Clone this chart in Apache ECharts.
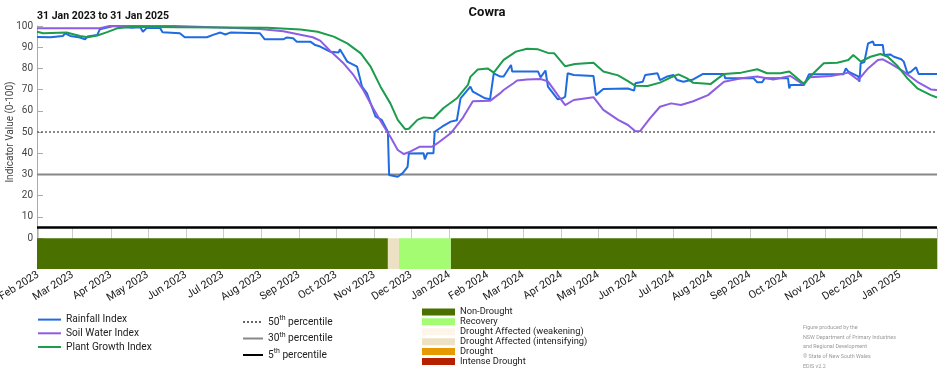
<!DOCTYPE html>
<html>
<head>
<meta charset="utf-8">
<script src="https://cdn.jsdelivr.net/npm/echarts@6/dist/echarts.min.js"></script>
<style>
html,body{margin:0;padding:0;background:#fff;}
#chart{width:952px;height:370px;}
</style>
</head>
<body>
<div id="chart"></div>
<script>
const startDate = '2023-01-31';
const endDate = '2025-01-31';
const yTicks = [0, 10, 20, 30, 40, 50, 60, 70, 80, 90, 100];
const monthNames = ['Jan','Feb','Mar','Apr','May','Jun','Jul','Aug','Sep','Oct','Nov','Dec'];

const rainfallIndex = [
 ['2023-01-31',94.8],['2023-02-11',94.7],['2023-02-21',95.3],['2023-02-23',96.5],['2023-02-27',95.3],
 ['2023-03-07',94.6],['2023-03-11',93.7],['2023-03-13',95],['2023-03-21',95.8],['2023-03-23',98.4],
 ['2023-04-03',100],['2023-04-18',99.2],['2023-04-25',99.4],['2023-04-27',97.3],['2023-04-30',99],
 ['2023-05-11',99],['2023-05-13',97.1],['2023-05-27',96.6],['2023-05-31',94.7],['2023-06-18',94.7],
 ['2023-06-23',95.8],['2023-06-29',96.9],['2023-07-03',96.0],['2023-07-07',96.9],['2023-07-31',96.6],
 ['2023-08-04',93.7],['2023-08-19',93.7],['2023-08-22',94.6],['2023-08-27',94.2],['2023-08-30',92.6],
 ['2023-09-10',92.6],['2023-09-14',91],['2023-09-18',90.3],['2023-09-26',87.9],['2023-10-03',87.5],
 ['2023-10-04',89],['2023-10-10',83.2],['2023-10-18',80.8],['2023-10-22',71.4],['2023-10-26',68.2],
 ['2023-11-02',57.2],['2023-11-07',55.7],['2023-11-12',50.1],['2023-11-13',29.7],['2023-11-20',28.9],
 ['2023-11-24',30.6],['2023-11-28',33.6],['2023-11-29',39.9],['2023-12-11',40],['2023-12-12',37.1],
 ['2023-12-14',40],['2023-12-19',40],['2023-12-20',50.1],['2023-12-26',52.5],['2024-01-02',54.9],
 ['2024-01-07',55.5],['2024-01-10',65.9],['2024-01-18',71.4],['2024-01-20',69],['2024-01-30',65.9],
 ['2024-02-03',65.5],['2024-02-06',77.7],['2024-02-11',76.2],['2024-02-14',76.2],['2024-02-20',81.6],
 ['2024-02-21',78.5],['2024-03-13',78.5],['2024-03-15',75.8],['2024-03-19',79],['2024-03-21',71.4],
 ['2024-03-29',65.4],['2024-04-02',65.9],['2024-04-04',66.7],['2024-04-06',77.7],['2024-04-11',76.9],
 ['2024-04-27',76.4],['2024-04-29',67.4],['2024-04-30',66.7],['2024-05-05',70.3],['2024-05-25',70.5],
 ['2024-05-30',69.5],['2024-05-31',73],['2024-06-06',73.7],['2024-06-08',76.9],['2024-06-18',77.7],
 ['2024-06-20',74.5],['2024-06-26',76.2],['2024-07-01',76.9],['2024-07-04',74.5],['2024-07-09',73.7],
 ['2024-07-17',74.8],['2024-07-25',77.4],['2024-08-11',77.4],['2024-08-12',75.3],['2024-09-04',75.3],
 ['2024-09-07',73.5],['2024-09-11',73.5],['2024-09-13',75.3],['2024-10-02',75.3],['2024-10-03',70.6],
 ['2024-10-04',72.2],['2024-10-15',72.2],['2024-10-19',77.2],['2024-11-16',77.2],['2024-11-18',80],
 ['2024-11-20',78.5],['2024-11-28',76.2],['2024-11-29',73.7],['2024-11-30',82.4],['2024-12-03',83],
 ['2024-12-06',91.8],['2024-12-10',92.7],['2024-12-11',91],['2024-12-18',91],['2024-12-19',86.3],
 ['2024-12-24',86.6],['2024-12-27',85.5],['2025-01-02',84.3],['2025-01-04',83.2],['2025-01-07',77.7],
 ['2025-01-10',78.5],['2025-01-14',80.5],['2025-01-16',77.4],['2025-01-31',77.4]
];

const soilWaterIndex = [
 ['2023-01-31',98.9],['2023-03-23',98.9],['2023-03-31',100],['2023-05-23',100],['2023-06-29',99.3],
 ['2023-07-31',98.6],['2023-08-19',97.5],['2023-09-02',95.9],['2023-09-12',94.7],['2023-09-18',93.1],
 ['2023-09-26',88.3],['2023-10-07',82.4],['2023-10-15',76.9],['2023-10-23',69.8],['2023-10-31',61.2],
 ['2023-11-08',53.3],['2023-11-14',47.8],['2023-11-20',41.5],['2023-11-25',39.6],['2023-11-30',40.7],
 ['2023-12-08',43.1],['2023-12-18',43.1],['2023-12-22',44.6],['2024-01-02',49.4],['2024-01-12',56.8],
 ['2024-01-20',64.5],['2024-02-03',64.7],['2024-02-11',68.2],['2024-02-14',69.8],['2024-02-22',73],
 ['2024-02-25',74.3],['2024-03-04',74.8],['2024-03-15',75],['2024-03-21',73.9],['2024-03-29',67.4],
 ['2024-04-04',62.7],['2024-04-11',65.1],['2024-04-27',66.4],['2024-05-05',60.4],['2024-05-17',55.7],
 ['2024-05-25',53.3],['2024-05-31',50.3],['2024-06-04',50.5],['2024-06-12',56.5],['2024-06-20',61.9],
 ['2024-06-29',63.5],['2024-07-07',62.7],['2024-07-17',64.5],['2024-07-29',67.4],['2024-08-11',73.7],
 ['2024-08-25',75.3],['2024-09-07',76.2],['2024-09-20',74.8],['2024-10-04',76.4],['2024-10-14',72.6],
 ['2024-10-20',75.8],['2024-11-06',76.4],['2024-11-20',78],['2024-11-28',74.5],['2024-12-06',80],
 ['2024-12-14',84],['2024-12-18',84.3],['2024-12-24',82.4],['2025-01-04',78.5],['2025-01-15',73.7],
 ['2025-01-26',70.1],['2025-01-31',69.8]
];

const plantGrowthIndex = [
 ['2023-01-31',97.3],['2023-02-05',96.6],['2023-02-24',96.9],['2023-03-07',95.3],['2023-03-13',94.7],
 ['2023-03-21',95.5],['2023-03-29',97.1],['2023-04-06',98.9],['2023-04-19',99.6],['2023-05-25',99.4],
 ['2023-08-06',99.2],['2023-09-02',98.4],['2023-09-16',97.3],['2023-09-29',95],['2023-10-10',91.8],
 ['2023-10-21',87.1],['2023-10-29',80.8],['2023-11-06',71.4],['2023-11-14',63.5],['2023-11-20',55.7],
 ['2023-11-26',51.3],['2023-11-29',51.5],['2023-12-06',55.7],['2023-12-11',56.9],['2023-12-19',56.5],
 ['2023-12-27',61.2],['2024-01-07',65.9],['2024-01-16',72.2],['2024-01-18',76],['2024-01-24',79.5],
 ['2024-02-01',80],['2024-02-06',78],['2024-02-14',84],['2024-02-24',87.9],['2024-03-04',89.3],
 ['2024-03-13',89],['2024-03-21',87.3],['2024-03-26',87.2],['2024-04-04',81],['2024-04-12',82.1],
 ['2024-04-27',82.7],['2024-05-05',78.5],['2024-05-17',76.7],['2024-05-25',74],['2024-05-31',71.8],
 ['2024-06-10',71.7],['2024-06-20',73.3],['2024-06-29',75.8],['2024-07-05',77.2],['2024-07-12',75.3],
 ['2024-07-17',73.2],['2024-07-31',72.6],['2024-08-11',77.4],['2024-08-25',78],['2024-09-07',79.6],
 ['2024-09-15',77.7],['2024-09-26',77.7],['2024-10-03',78.5],['2024-10-15',72.6],['2024-10-20',76.2],
 ['2024-10-31',82.4],['2024-11-11',82.7],['2024-11-20',84],['2024-11-24',86.3],['2024-11-30',83.2],
 ['2024-12-08',85.5],['2024-12-16',86.8],['2024-12-22',85.5],['2024-12-30',81.1],['2025-01-07',75.3],
 ['2025-01-15',70.6],['2025-01-26',67.4],['2025-01-31',66.3]
];

const percentileNames = ['50th percentile', '30th percentile', '5th percentile'];
const percentileValues = [50, 30, 5];

const droughtCategories = ['Non-Drought', 'Recovery', 'Drought Affected (weakening)', 'Drought Affected (intensifying)', 'Drought', 'Intense Drought'];
const droughtColors = ['#4a7000', '#a3fc72', '#fdf5ea', '#ece2c3', '#e69a00', '#b52000'];
// [start, end, category index]
const droughtSegments = [
 ['2023-01-31', '2023-11-12', 0],
 ['2023-11-12', '2023-11-21', 3],
 ['2023-11-21', '2024-01-02', 1],
 ['2024-01-02', '2025-01-31', 0]
];

const FONT = 'Roboto';
const toTs = s => +echarts.number.parseDate(s);

const chart = echarts.init(document.getElementById('chart'), null, {renderer: 'canvas'});

const lineSeries = [
 {name: 'Rainfall Index', data: rainfallIndex, color: '#1f6be0'},
 {name: 'Soil Water Index', data: soilWaterIndex, color: '#8d5de3'},
 {name: 'Plant Growth Index', data: plantGrowthIndex, color: '#1c9c4c'}
].map(s => ({
 name: s.name, type: 'line', xAxisIndex: 0, yAxisIndex: 0, data: s.data,
 symbol: 'none', showSymbol: false, smooth: false, color: s.color,
 lineStyle: {width: 2, color: s.color}, z: 5, silent: true, animation: false
}));

const pctStyles = [
 {color: '#666', width: 1.5, type: [2, 2]},
 {color: '#888', width: 2, type: 'solid'},
 {color: '#000', width: 2.5, type: 'solid'}
];
const pctSeries = percentileNames.map((n, i) => ({
 name: n, type: 'line', xAxisIndex: 0, yAxisIndex: 0,
 data: [[startDate, percentileValues[i]], [endDate, percentileValues[i]]],
 symbol: 'none', showSymbol: false, color: pctStyles[i].color, lineStyle: pctStyles[i], z: 3, silent: true, animation: false
}));

const droughtSeries = droughtCategories.map((c, ci) => ({
 name: c, type: 'custom', xAxisIndex: 1, yAxisIndex: 1,
 color: droughtColors[ci], itemStyle: {color: droughtColors[ci]},
 dimensions: ['start', 'end', 'cat'],
 encode: {x: [0, 1]},
 data: droughtSegments.filter(d => d[2] === ci).map(d => [toTs(d[0]), toTs(d[1]), d[2]]),
 renderItem: function (params, api) {
   const s = api.coord([api.value(0), 3]);
   const e = api.coord([api.value(1), 0]);
   return {type: 'rect', shape: {x: s[0], y: s[1], width: e[0] - s[0], height: e[1] - s[1]},
           style: {fill: droughtColors[ci]}};
 },
 silent: true, animation: false
}));

const option = {
 animation: false,
 backgroundColor: '#fff',
 textStyle: {fontFamily: FONT},
 title: [
  {text: 'Cowra', left: 487, top: 6, textAlign: 'center', padding: 0,
   textStyle: {fontFamily: FONT, fontSize: 13, fontWeight: 'bold', color: '#111'}},
  {text: '31 Jan 2023 to 31 Jan 2025', left: 37, top: 11, padding: 0,
   textStyle: {fontFamily: FONT, fontSize: 10.5, fontWeight: 'bold', color: '#111'}}
 ],
 grid: [
  {left: 37, right: 15, top: 26, height: 212, outerBoundsMode: 'none', containLabel: false},
  {left: 37, right: 15, top: 228, height: 41, outerBoundsMode: 'none', containLabel: false}
 ],
 xAxis: [
  {type: 'time', gridIndex: 0, min: startDate, max: endDate, show: false,
   splitLine: {show: false}},
  {type: 'time', gridIndex: 1, min: startDate, max: endDate,
   minInterval: 28 * 86400000, maxInterval: 31 * 86400000,
   axisLine: {show: false}, axisTick: {show: false},
   splitLine: {show: true, lineStyle: {color: '#cccccc', width: 1}},
   axisLabel: {rotate: 32, interval: 0, hideOverlap: false, fontSize: 10.8, color: '#222',
     fontFamily: FONT, fontWeight: 'normal', margin: 5,
     formatter: function (v) { const d = new Date(v); return monthNames[d.getMonth()] + ' ' + d.getFullYear(); }}}
 ],
 yAxis: [
  {type: 'value', gridIndex: 0, min: yTicks[0], max: yTicks[yTicks.length - 1], interval: 10,
   name: 'Indicator Value (0-100)', nameLocation: 'middle', nameGap: 22, nameRotate: 90,
   nameMoveOverlap: false,
   nameTextStyle: {fontFamily: FONT, fontSize: 10, color: '#444'},
   axisLine: {show: true, lineStyle: {color: '#aaa', width: 1}},
   axisTick: {show: true, inside: true, length: 6, lineStyle: {color: '#aaa'}},
   axisLabel: {fontSize: 10, color: '#444', margin: 4, fontFamily: FONT},
   splitLine: {show: false}},
  {type: 'value', gridIndex: 1, min: 0, max: 4,
   axisLine: {show: true, lineStyle: {color: '#aaa', width: 1}},
   axisTick: {show: false}, axisLabel: {show: false}, splitLine: {show: false}}
 ],
 legend: [
  {data: ['Rainfall Index', 'Soil Water Index', 'Plant Growth Index'], orient: 'vertical',
   left: 37, top: 314, height: 60, padding: 0, itemWidth: 23, itemHeight: 14, itemGap: 2.5, selectedMode: false,
   itemStyle: {opacity: 0},
   textStyle: {fontFamily: FONT, fontSize: 10.2, color: '#222'}},
  {data: percentileNames, orient: 'vertical', left: 242, top: 315, height: 60, padding: 0,
   itemWidth: 20, itemHeight: 14, itemGap: 2.5, selectedMode: false,
   itemStyle: {opacity: 0},
   formatter: function (n) { const m = n.match(/^(\d+)(th) (.*)$/); return m[1] + '{sup|' + m[2] + '} ' + m[3]; },
   textStyle: {fontFamily: FONT, fontSize: 10.2, color: '#222', lineHeight: 14,
     rich: {sup: {fontSize: 7, verticalAlign: 'top', lineHeight: 14, color: '#222', fontFamily: FONT}}}},
  {data: droughtCategories, orient: 'vertical', left: 422, top: 307, height: 70, padding: 0,
   itemWidth: 33, itemHeight: 7, itemGap: 0, icon: 'rect', selectedMode: false,
   textStyle: {fontFamily: FONT, fontSize: 9.3, color: '#222', lineHeight: 9.9}}
 ],
 graphic: [
  {type: 'text', left: 803, top: 323, silent: true,
   style: {text: 'Figure produced by the\nNSW Department of Primary Industries\nand Regional Development\n\u00a9 State of New South Wales\nEDIS v2.2',
     fontFamily: FONT, fontSize: 5.4, lineHeight: 9.6, fill: '#9a9a9a'}}
 ],
 series: [].concat(droughtSeries, pctSeries, lineSeries)
};
chart.setOption(option);
</script>
</body>
</html>
